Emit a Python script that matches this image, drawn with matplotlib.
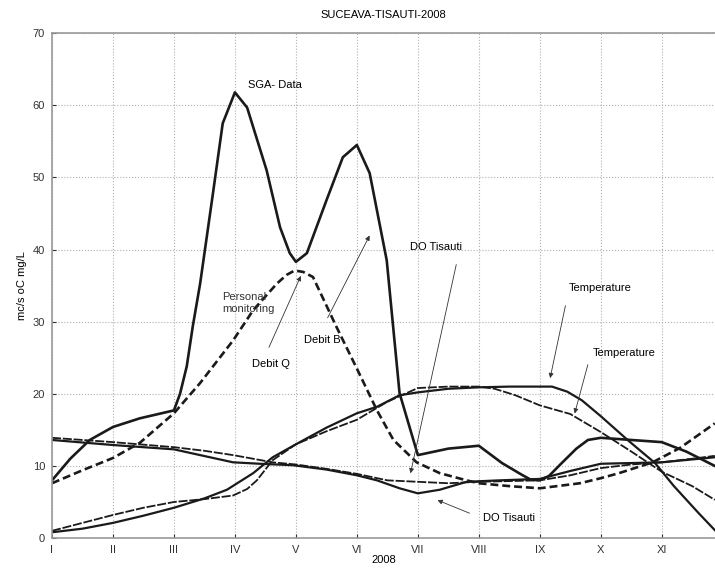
import matplotlib.pyplot as plt
import numpy as np

plt.rcParams['font.family'] = ['Liberation Sans', 'DejaVu Sans']

months = ['I', 'II', 'III', 'IV', 'V', 'VI', 'VII', 'VIII', 'IX', 'X', 'XI']

# SGA data (solid)
sga_x = [1, 1.3, 1.62, 2, 2.44, 3, 3.1, 3.21, 3.31, 3.43, 3.64, 3.8, 4.0, 4.2,
         4.52, 4.74, 4.9, 5.0, 5.18, 5.5, 5.77, 6.0, 6.21, 6.49, 6.7, 7.0,
         7.5, 8.0, 8.38, 8.7, 8.85, 9.0, 9.15, 9.36, 9.6, 9.79, 10.0, 10.5, 11.0, 11.4, 11.87]
sga_y = [8.0, 11.0, 13.6, 15.4, 16.6, 17.7, 20.0, 23.8, 29.4, 35.3, 47.8, 57.5, 61.8, 59.7,
         51.0, 43.1, 39.5, 38.3, 39.5, 46.8, 52.8, 54.5, 50.6, 38.5, 20.1, 11.5,
         12.4, 12.8, 10.4, 8.8, 8.1, 8.0, 8.6, 10.4, 12.4, 13.6, 13.9, 13.6, 13.3, 12.0, 10.0]

# Personal monitoring (dashed)
pm_x = [1, 1.5, 2, 2.44, 3, 3.43, 3.97, 4.3, 4.69, 4.85, 4.98, 5.12, 5.28, 5.67, 6.0, 6.33,
        6.6, 6.98, 7.36, 7.8, 8.0, 8.5, 9.0, 9.66, 10.0, 10.3, 10.85, 11.3, 11.87]
pm_y = [7.6, 9.4, 11.1, 13.2, 17.3, 21.5, 27.4, 31.6, 35.3, 36.5, 37.1, 36.9, 36.2, 29.2, 23.5, 17.7,
        13.6, 10.5, 9.0, 8.0, 7.6, 7.2, 6.9, 7.6, 8.3, 9.0, 10.5, 12.5, 15.9]

# Temperature (solid)
t1_x = [1, 1.5, 2, 2.5, 3, 3.5, 3.87, 4.3, 4.62, 5.0, 5.5, 6.0, 6.33, 6.7, 7.0,
        7.5, 8.0, 8.5, 9.0, 9.2, 9.45, 9.69, 10.0, 10.44, 10.89, 11.2, 11.6, 11.87]
t1_y = [0.8, 1.3, 2.1, 3.1, 4.2, 5.5, 6.7, 9.0, 11.2, 13.0, 15.3, 17.3, 18.2, 19.8, 20.2,
        20.7, 20.9, 21.0, 21.0, 21.0, 20.3, 19.1, 16.9, 13.6, 10.4, 7.2, 3.5, 1.1]

# Temperature (dashed)
t2_x = [1, 1.5, 2, 2.5, 3, 3.5, 3.97, 4.2, 4.36, 4.62, 5.0, 5.5, 6.0, 6.5, 7.0,
        7.5, 8.0, 8.26, 8.6, 9.0, 9.5, 10.0, 10.5, 11.0, 11.5, 11.87]
t2_y = [1.0, 2.1, 3.2, 4.2, 5.0, 5.4, 5.9, 6.8, 8.0, 10.8, 13.0, 14.8, 16.4, 18.9, 20.8,
        21.0, 21.0, 20.7, 19.8, 18.4, 17.2, 14.7, 12.0, 9.2, 7.2, 5.3]

# DO Tisauti (solid)
do1_x = [1, 2, 3, 3.43, 3.97, 4.41, 4.95, 5.5, 6.0, 6.33, 6.7, 7.0, 7.36, 7.8,
         8.34, 9.0, 9.5, 10.0, 10.5, 11.0, 11.5, 11.87]
do1_y = [13.6, 12.9, 12.3, 11.5, 10.5, 10.3, 10.1, 9.5, 8.7, 8.0, 6.9, 6.2, 6.7, 7.8,
         8.0, 8.2, 9.3, 10.3, 10.4, 10.5, 10.9, 11.2]

# DO Tisauti (dashed)
do2_x = [1, 2, 3, 3.5, 3.97, 4.62, 5.0, 5.5, 6.0, 6.5, 7.0, 7.5, 8.0, 8.5, 9.0,
         9.5, 10.0, 10.5, 11.0, 11.5, 11.87]
do2_y = [13.9, 13.3, 12.6, 12.1, 11.5, 10.5, 10.2, 9.6, 8.9, 8.0, 7.8, 7.6, 7.8, 7.9, 8.0,
         8.7, 9.7, 10.2, 10.5, 11.0, 11.4]

fig = plt.figure(figsize=(7.15, 5.73), dpi=100)
ax = fig.add_axes([0.0727, 0.061, 0.927, 0.881])

lc = '#1a1a1a'
ax.plot(sga_x, sga_y, '-', color=lc, lw=1.9)
ax.plot(pm_x, pm_y, '--', color=lc, lw=1.9, dashes=(3, 1.5))
ax.plot(t1_x, t1_y, '-', color=lc, lw=1.6)
ax.plot(t2_x, t2_y, '--', color=lc, lw=1.3, dashes=(5, 1))
ax.plot(do1_x, do1_y, '-', color=lc, lw=1.6)
ax.plot(do2_x, do2_y, '--', color=lc, lw=1.3, dashes=(5, 1))

fs = 8
arrow = dict(arrowstyle='-|>', color='#333333', lw=0.6, mutation_scale=7)
ax.text(4.21, 62.8, 'SGA- Data', fontsize=fs, ha='left', va='center')
ax.text(3.79, 32.6, 'Personal\nmonitoring', fontsize=fs, ha='left', va='center',
        linespacing=1.25, color='#333333')
ax.annotate('', xy=(5.1, 36.7), xytext=(4.54, 26.1), arrowprops=arrow)
ax.text(4.28, 24.1, 'Debit Q', fontsize=fs, ha='left', va='center')
ax.annotate('', xy=(6.23, 42.3), xytext=(5.5, 30.2), arrowprops=arrow)
ax.text(5.13, 27.4, 'Debit B', fontsize=fs, ha='left', va='center')
ax.annotate('', xy=(6.87, 8.6), xytext=(7.64, 38.3), arrowprops=arrow)
ax.text(6.87, 40.3, 'DO Tisauti', fontsize=fs, ha='left', va='center')
ax.annotate('', xy=(9.16, 21.8), xytext=(9.43, 32.6), arrowprops=arrow)
ax.text(9.48, 34.7, 'Temperature', fontsize=fs, ha='left', va='center')
ax.annotate('', xy=(9.56, 16.9), xytext=(9.8, 24.4), arrowprops=arrow)
ax.text(9.87, 25.6, 'Temperature', fontsize=fs, ha='left', va='center')
ax.annotate('', xy=(7.28, 5.4), xytext=(7.89, 3.3), arrowprops=arrow)
ax.text(8.07, 2.8, 'DO Tisauti', fontsize=fs, ha='left', va='center')

ax.set_xlim(1, 11.87)
ax.set_ylim(0, 70)
ax.set_xticks(range(1, 12))
ax.set_xticklabels(months)
ax.set_yticks(range(0, 71, 10))
ax.tick_params(direction='in', labelsize=fs, length=3, colors='#333333', pad=5)
ax.grid(True, linestyle=':', color='#b0b0b0', lw=0.8)
for s in ax.spines.values():
    s.set_color('#999999')
    s.set_linewidth(1.2)
ax.spines['right'].set_visible(False)

ax.set_title('SUCEAVA-TISAUTI-2008', fontsize=fs, pad=11)
ax.set_xlabel('2008', fontsize=fs, labelpad=0)
ax.set_ylabel('mc/s oC mg/L', fontsize=fs, labelpad=4)

fig.savefig('out.png', dpi=100)
